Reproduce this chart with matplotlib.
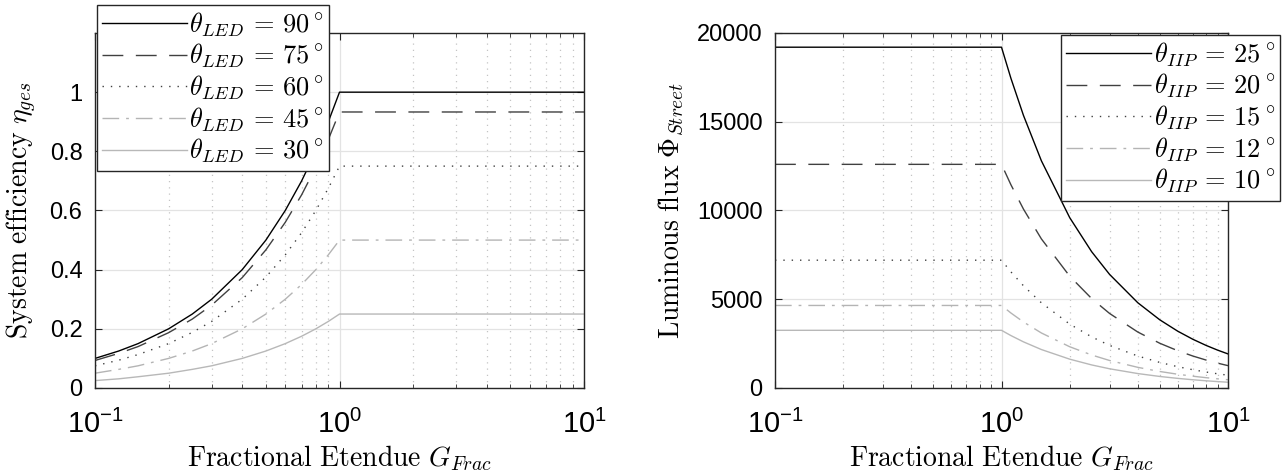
import matplotlib
matplotlib.use("Agg")
import matplotlib.pyplot as plt
from matplotlib.ticker import LogLocator, NullFormatter

plt.rcParams['font.family'] = ['Liberation Sans', 'DejaVu Sans']
plt.rcParams['mathtext.fontset'] = 'cm'
plt.rcParams['mathtext.rm'] = 'Liberation Sans'

# left plot: system efficiency vs fractional etendue
g_left = [0.1, 0.125, 0.15, 0.2, 0.25, 0.3, 0.4, 0.5, 0.6, 0.7, 0.8, 0.9, 1.0, 10]
eta90 = [0.1, 0.125, 0.15, 0.2, 0.25, 0.3, 0.4, 0.5, 0.6, 0.7, 0.8, 0.9, 1.0, 1.0]
eta75 = [0.093, 0.117, 0.14, 0.187, 0.233, 0.28, 0.373, 0.467, 0.56, 0.653, 0.746, 0.84, 0.933, 0.933]
eta60 = [0.075, 0.094, 0.113, 0.15, 0.188, 0.225, 0.3, 0.375, 0.45, 0.525, 0.6, 0.675, 0.75, 0.75]
eta45 = [0.05, 0.063, 0.075, 0.1, 0.125, 0.15, 0.2, 0.25, 0.3, 0.35, 0.4, 0.45, 0.5, 0.5]
eta30 = [0.025, 0.031, 0.038, 0.05, 0.063, 0.075, 0.1, 0.125, 0.15, 0.175, 0.2, 0.225, 0.25, 0.25]
led_angles = ['90', '75', '60', '45', '30']

# right plot: luminous flux vs fractional etendue
g_right = [0.1, 1.0, 1.1, 1.25, 1.5, 2, 2.5, 3, 4, 5, 6, 7, 8, 9, 10]
phi25 = [19200, 19200, 17455, 15360, 12800, 9600, 7680, 6400, 4800, 3840, 3200, 2743, 2400, 2133, 1920]
phi20 = [12600, 12600, 11455, 10080, 8400, 6300, 5040, 4200, 3150, 2520, 2100, 1800, 1575, 1400, 1260]
phi15 = [7200, 7200, 6545, 5760, 4800, 3600, 2880, 2400, 1800, 1440, 1200, 1029, 900, 800, 720]
phi12 = [4650, 4650, 4227, 3720, 3100, 2325, 1860, 1550, 1163, 930, 775, 664, 581, 517, 465]
phi10 = [3250, 3250, 2955, 2600, 2167, 1625, 1300, 1083, 813, 650, 542, 464, 406, 361, 325]
iip_angles = ['25', '20', '15', '12', '10']

styles = [
    dict(color='black', linestyle='-'),
    dict(color='#404040', linestyle=(0, (15, 9))),
    dict(color='#404040', linestyle=(0, (1, 5))),
    dict(color='#b4b4b4', linestyle=(0, (12, 5, 2, 5))),
    dict(color='#b8b8b8', linestyle='-'),
]

fig = plt.figure(figsize=(12.84, 4.75), dpi=100)
ax1 = fig.add_axes([95/1284, 87/475, 489/1284, 355/475])
ax2 = fig.add_axes([775/1284, 87/475, 453/1284, 355/475])


def style_axis(ax):
    ax.set_xscale('log')
    ax.set_xlim(0.1, 10)
    ax.xaxis.set_minor_locator(LogLocator(base=10, subs=range(2, 10)))
    ax.xaxis.set_minor_formatter(NullFormatter())
    ax.grid(True, which='major', color='#e3e3e3', linewidth=0.9, linestyle='-')
    ax.grid(True, which='minor', axis='x', color='#c4c4c4', linewidth=0.9, linestyle=(0, (1, 4)))
    ax.set_axisbelow(True)
    ax.tick_params(which='both', direction='in', top=True, right=True, labelsize=17,
                   color='#262626', pad=9)
    ax.tick_params(axis='x', which='major', pad=16, labelsize=21)
    ax.tick_params(which='major', length=5)
    ax.tick_params(which='minor', length=3)
    ax.set_xticks([0.1, 1, 10])
    ax.set_xticklabels([r'$\mathrm{10^{-1}}$', r'$\mathrm{10^{0}}$', r'$\mathrm{10^{1}}$'],
                       math_fontfamily='custom')
    for s in ax.spines.values():
        s.set_color('#262626')
        s.set_linewidth(1.0)
    ax.set_xlabel(r'$\mathrm{Fractional\ Etendue}\ G_{Frac}$', fontsize=20, labelpad=3)


leg_kw = dict(borderaxespad=0, fontsize=19, handlelength=3.2, handletextpad=0.1,
              labelspacing=0.12, borderpad=0.2, fancybox=False, framealpha=1,
              edgecolor='#262626')

style_axis(ax1)
for y, ang, st in zip([eta90, eta75, eta60, eta45, eta30], led_angles, styles):
    ax1.plot(g_left, y, linewidth=1.0,
             label=r'$\theta_{LED}\,=\,' + ang + r'\,^{\circ}$', **st)
ax1.set_ylim(0, 1.2)
ax1.set_yticks([0, 0.2, 0.4, 0.6, 0.8, 1])
ax1.set_yticklabels(['0', '0.2', '0.4', '0.6', '0.8', '1'])
ax1.set_ylabel(r'$\mathrm{System\ efficiency}\ \eta_{ges}$', fontsize=20, labelpad=8)
leg1 = ax1.legend(loc='upper left', bbox_to_anchor=(97/1284, 1 - 5/475),
                  bbox_transform=fig.transFigure, **leg_kw)
leg1.get_frame().set_linewidth(1.0)

style_axis(ax2)
for y, ang, st in zip([phi25, phi20, phi15, phi12, phi10], iip_angles, styles):
    ax2.plot(g_right, y, linewidth=1.0,
             label=r'$\theta_{IIP}\,=\,' + ang + r'\,^{\circ}$', **st)
ax2.set_ylim(0, 20000)
ax2.set_yticks([0, 5000, 10000, 15000, 20000])
ax2.set_yticklabels(['0', '5000', '10000', '15000', '20000'])
ax2.set_ylabel(r'$\mathrm{Luminous\ flux}\ \Phi_{Street}$', fontsize=20, labelpad=8)
leg2 = ax2.legend(loc='upper right', bbox_to_anchor=(1280/1284, 1 - 35/475),
                  bbox_transform=fig.transFigure, **leg_kw)
leg2.get_frame().set_linewidth(1.0)

fig.savefig('out.png', dpi=100)
